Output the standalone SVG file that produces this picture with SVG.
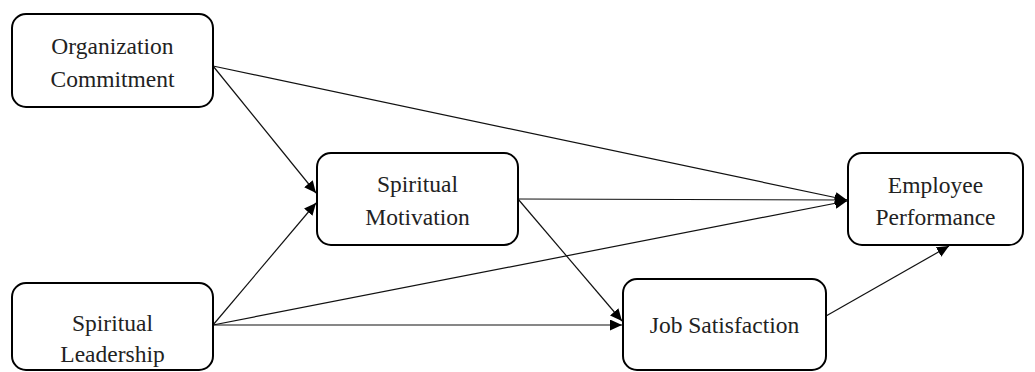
<svg xmlns="http://www.w3.org/2000/svg" width="1035" height="372" viewBox="0 0 1035 372">
<style>
.box{fill:#fff;stroke:#000;stroke-width:2}
.lbl{font-size:23.5px;fill:#222;text-anchor:middle}
.edge{stroke:#111;stroke-width:1.2;fill:none;marker-end:url(#arr)}
</style>
<defs>
<marker id="arr" markerUnits="userSpaceOnUse" markerWidth="13" markerHeight="11" refX="12" refY="5.5" orient="auto">
<path d="M0,0 L12,5.5 L0,11 z" fill="#000"/>
</marker>
</defs>
<rect width="1035" height="372" fill="#fff"/>
<g id="connectors">
<line class="edge" x1="213" y1="66" x2="316" y2="193"/>
<line class="edge" x1="213" y1="66" x2="847" y2="200"/>
<line class="edge" x1="213" y1="325" x2="316" y2="203"/>
<line class="edge" x1="213" y1="325" x2="847" y2="201"/>
<line class="edge" x1="213" y1="325" x2="622" y2="325"/>
<line class="edge" x1="518" y1="199" x2="847" y2="200"/>
<line class="edge" x1="518" y1="199" x2="622" y2="321"/>
<line class="edge" x1="826" y1="316" x2="949" y2="246"/>
</g>
<g font-family="'Liberation Serif', 'Times New Roman', 'DejaVu Serif', serif">
<g id="organization-commitment">
<rect class="box" x="12" y="14" width="201" height="93" rx="14"/>
<text class="lbl" x="112.5" y="54">Organization</text>
<text class="lbl" x="112.5" y="87">Commitment</text>
</g>
<g id="spiritual-motivation">
<rect class="box" x="317" y="153" width="201" height="92" rx="14"/>
<text class="lbl" x="417.5" y="192">Spiritual</text>
<text class="lbl" x="417.5" y="225">Motivation</text>
</g>
<g id="employee-performance">
<rect class="box" x="848" y="153" width="175" height="92" rx="14"/>
<text class="lbl" x="935.5" y="193">Employee</text>
<text class="lbl" x="935.5" y="225">Performance</text>
</g>
<g id="job-satisfaction">
<rect class="box" x="623" y="279" width="203" height="91" rx="14"/>
<text class="lbl" x="724.5" y="333">Job Satisfaction</text>
</g>
<g id="spiritual-leadership">
<rect class="box" x="12" y="283" width="201" height="87" rx="14"/>
<text class="lbl" x="112.5" y="331">Spiritual</text>
<text class="lbl" x="112.5" y="362">Leadership</text>
</g>
</g>
</svg>
